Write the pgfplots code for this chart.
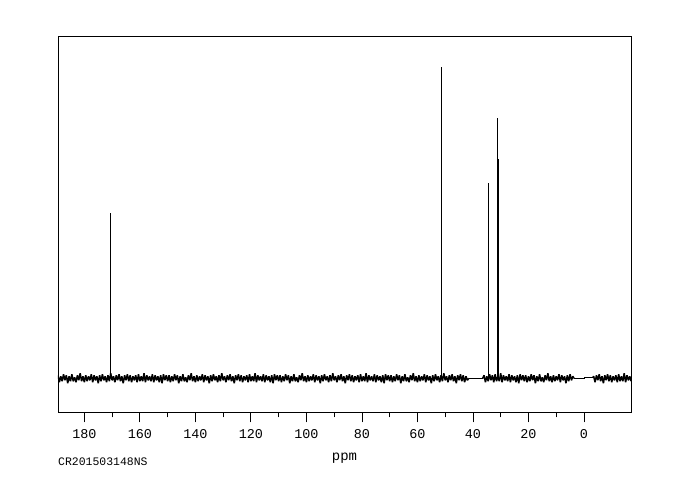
\documentclass[border=0pt]{standalone}
\usepackage{pgfplots}
\pgfplotsset{compat=1.18}
\usepackage{fontspec}
\setmainfont{Liberation Mono}
\begin{document}
\begin{tikzpicture}[x=1bp,y=1bp]
\path[use as bounding box] (0,0) rectangle (682,500);
\begin{axis}[
  at={(58bp,87.7bp)}, anchor=south west,
  scale only axis, width=573.7bp, height=376bp,
  x dir=reverse, xmin=-17.2, xmax=189.5, ymin=-34, ymax=342,
  xtick={0,20,...,180}, minor xtick={10,30,...,170},
  ytick=\empty, xtick pos=bottom, tick align=outside,
  major tick length=10bp, minor tick length=5bp,
  tick style={black, line width=0.8bp},
  axis line style={line width=0.8bp},
  /pgf/number format/assume math mode=true,
  xticklabel style={font=\fontsize{13.5}{14}\selectfont, yshift=-4bp},
]
\addplot[black, line width=1.5bp, line join=bevel, no markers] coordinates {
(189.5,3)(189,-4)(188.5,2)(188,-3)(187.5,4)(187,-2)(186.5,3)(186,-5)(185.5,2)(185,-3)
(184.5,4)(184,-3)(183.5,1)(183,-4)(182.5,3)(182,-2)(181.5,5)(181,-3)(180.5,2)(180,-4)
(179.5,3)(179,-3)(178.5,2)(178,-2)(177.5,4)(177,-4)(176.5,3)(176,-2)(175.5,2)(175,-5)
(174.5,3)(174,-3)(173.5,4)(173,-2)(172.5,2)(172,-4)(171.5,3)(171,-3)(170.5,5)(170,-2)
(169.5,2)(169,-4)(168.5,3)(168,-2)(167.5,4)(167,-3)(166.5,2)(166,-5)(165.5,3)(165,-2)
(164.5,4)(164,-3)(163.5,3)(163,-4)(162.5,2)(162,-2)(161.5,3)(161,-4)(160.5,4)(160,-3)
(159.5,2)(159,-3)(158.5,5)(158,-4)(157.5,3)(157,-2)(156.5,2)(156,-3)(155.5,4)(155,-4)
(154.5,3)(154,-2)(153.5,2)(153,-4)(152.5,3)(152,-5)(151.5,4)(151,-2)(150.5,3)(150,-3)
(149.5,3)(149,-4)(148.5,2)(148,-3)(147.5,4)(147,-2)(146.5,3)(146,-5)(145.5,2)(145,-3)
(144.5,4)(144,-3)(143.5,1)(143,-4)(142.5,3)(142,-2)(141.5,5)(141,-3)(140.5,2)(140,-4)
(139.5,3)(139,-3)(138.5,2)(138,-2)(137.5,4)(137,-4)(136.5,3)(136,-2)(135.5,2)(135,-5)
(134.5,3)(134,-3)(133.5,4)(133,-2)(132.5,2)(132,-4)(131.5,3)(131,-3)(130.5,5)(130,-2)
(129.5,2)(129,-4)(128.5,3)(128,-2)(127.5,4)(127,-3)(126.5,2)(126,-5)(125.5,3)(125,-2)
(124.5,4)(124,-3)(123.5,3)(123,-4)(122.5,2)(122,-2)(121.5,3)(121,-4)(120.5,4)(120,-3)
(119.5,2)(119,-3)(118.5,5)(118,-4)(117.5,3)(117,-2)(116.5,2)(116,-3)(115.5,4)(115,-4)
(114.5,3)(114,-2)(113.5,2)(113,-4)(112.5,3)(112,-5)(111.5,4)(111,-2)(110.5,3)(110,-3)
(109.5,3)(109,-4)(108.5,2)(108,-3)(107.5,4)(107,-2)(106.5,3)(106,-5)(105.5,2)(105,-3)
(104.5,4)(104,-3)(103.5,1)(103,-4)(102.5,3)(102,-2)(101.5,5)(101,-3)(100.5,2)(100,-4)
(99.5,3)(99,-3)(98.5,2)(98,-2)(97.5,4)(97,-4)(96.5,3)(96,-2)(95.5,2)(95,-5)
(94.5,3)(94,-3)(93.5,4)(93,-2)(92.5,2)(92,-4)(91.5,3)(91,-3)(90.5,5)(90,-2)
(89.5,2)(89,-4)(88.5,3)(88,-2)(87.5,4)(87,-3)(86.5,2)(86,-5)(85.5,3)(85,-2)
(84.5,4)(84,-3)(83.5,3)(83,-4)(82.5,2)(82,-2)(81.5,3)(81,-4)(80.5,4)(80,-3)
(79.5,2)(79,-3)(78.5,5)(78,-4)(77.5,3)(77,-2)(76.5,2)(76,-3)(75.5,4)(75,-4)
(74.5,3)(74,-2)(73.5,2)(73,-4)(72.5,3)(72,-5)(71.5,4)(71,-2)(70.5,3)(70,-3)
(69.5,3)(69,-4)(68.5,2)(68,-3)(67.5,4)(67,-2)(66.5,3)(66,-5)(65.5,2)(65,-3)
(64.5,4)(64,-3)(63.5,1)(63,-4)(62.5,3)(62,-2)(61.5,5)(61,-3)(60.5,2)(60,-4)
(59.5,3)(59,-3)(58.5,2)(58,-2)(57.5,4)(57,-4)(56.5,3)(56,-2)(55.5,2)(55,-5)
(54.5,3)(54,-3)(53.5,4)(53,-2)(52.5,2)(52,-4)(51.5,3)(51,-3)(50.5,5)(50,-2)
(49.5,2)(49,-4)(48.5,3)(48,-2)(47.5,4)(47,-3)(46.5,2)(46,-5)(45.5,3)(45,-2)
(44.5,4)(44,-3)(43.5,3)(43,-4)(42.5,2)(42,-2)(41.5,0)
};
\addplot[black, line width=0.8bp, no markers] coordinates {(41.5,0)(36.5,0)};
\addplot[black, line width=1.5bp, line join=bevel, no markers] coordinates {
(36.5,0)
(36,3)(35.5,-4)(35,2)(34.5,-3)(34,4)(33.5,-2)(33,3)(32.5,-4)(32,4)(31.5,-3)
(31,2)(30.5,-3)(30,5)(29.5,-4)(29,3)(28.5,-2)(28,2)(27.5,-3)(27,4)(26.5,-4)
(26,3)(25.5,-2)(25,2)(24.5,-4)(24,3)(23.5,-5)(23,4)(22.5,-2)(22,3)(21.5,-3)
(21,3)(20.5,-4)(20,2)(19.5,-3)(19,4)(18.5,-2)(18,3)(17.5,-5)(17,2)(16.5,-3)
(16,4)(15.5,-3)(15,1)(14.5,-4)(14,3)(13.5,-2)(13,5)(12.5,-3)(12,2)(11.5,-4)
(11,3)(10.5,-3)(10,2)(9.5,-2)(9,4)(8.5,-4)(8,3)(7.5,-2)(7,2)(6.5,-5)
(6,3)(5.5,-3)(5,4)(4.5,-2)(4,2)(3.6,0)
};
\addplot[black, line width=0.8bp, no markers] coordinates {(3.6,0)(0,0)(0,1)(-3.2,1)};
\addplot[black, line width=1.5bp, line join=bevel, no markers] coordinates {
(-3.2,1)
(-3.5,2)(-4,-4)(-4.5,3)(-5,-2)(-5.5,4)(-6,-3)(-6.5,2)(-7,-5)(-7.5,3)(-8,-2)
(-8.5,4)(-9,-3)(-9.5,3)(-10,-4)(-10.5,2)(-11,-2)(-11.5,3)(-12,-4)(-12.5,4)(-13,-3)
(-13.5,2)(-14,-3)(-14.5,5)(-15,-4)(-15.5,3)(-16,-2)(-16.5,2)(-17,-3)(-17.5,4)
};
\addplot[black, ycomb, no markers, line width=0.8bp] coordinates {
(170.6,165) (51.4,311) (34.5,195) (31.2,260)
};
\addplot[black, ycomb, no markers, line width=1.4bp] coordinates {
(30.9,219)
};
\end{axis}
\node[anchor=base] at (344.5,39) {\fontsize{14}{16}\selectfont ppm};
\node[anchor=base west, inner sep=0pt] at (58,34.5) {\fontsize{11.5}{13}\selectfont CR201503148NS};
\end{tikzpicture}
\end{document}
